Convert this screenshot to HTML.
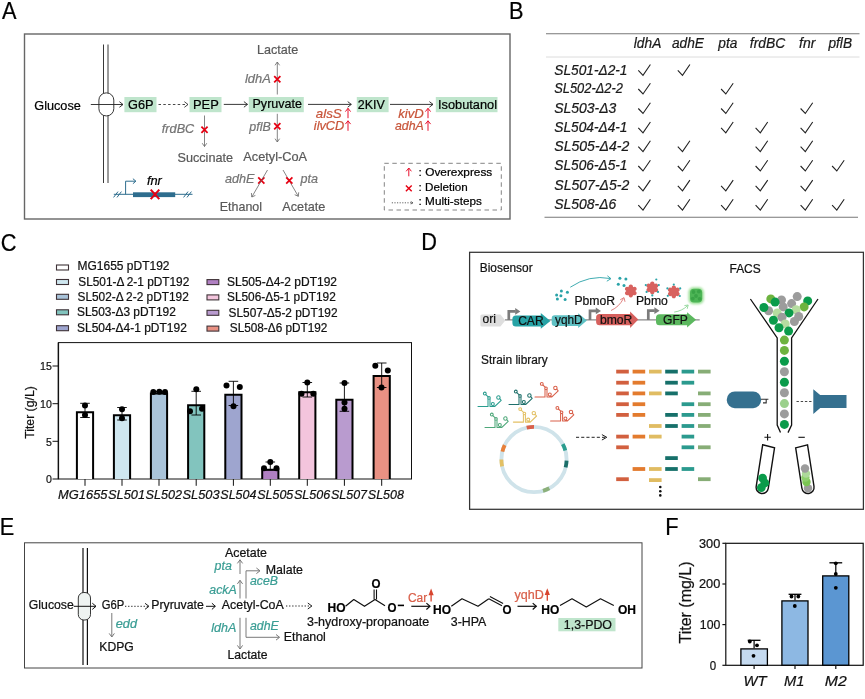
<!DOCTYPE html>
<html><head><meta charset="utf-8"><title>Figure</title>
<style>
html,body{margin:0;padding:0;background:#fff;}
svg{display:block;font-family:"Liberation Sans",sans-serif;filter:blur(0.35px);}
</style></head><body>
<svg width="865" height="699" viewBox="0 0 865 699">
<rect width="865" height="699" fill="#fff"/>
<!-- Panel A -->
<text x="1.9" y="18.8" font-size="23.8" textLength="14.5" lengthAdjust="spacingAndGlyphs" stroke="#000" stroke-width="0.22">A</text>
<rect x="24.5" y="34.0" width="485.5" height="185.0" fill="none" stroke="#666" stroke-width="1.4" rx="0" />
<line x1="103.5" y1="44.5" x2="103.5" y2="183.0" stroke="#222" stroke-width="0.9" />
<line x1="108.0" y1="44.5" x2="108.0" y2="183.0" stroke="#222" stroke-width="0.9" />
<rect x="98.9" y="92.9" width="14.9" height="23.0" fill="#fff" stroke="#222" stroke-width="0.9" rx="7.2" />
<text x="34.3" y="109.5" font-size="13.2" textLength="46.5" lengthAdjust="spacingAndGlyphs" stroke="#000" stroke-width="0.22">Glucose</text>
<line x1="90.8" y1="104.5" x2="123.0" y2="104.5" stroke="#222" stroke-width="0.9" />
<path d="M119.4,107.3 L123.0,104.5 L119.4,101.7" stroke="#222" stroke-width="0.9" fill="none" stroke-linejoin="miter"/>
<rect x="124.4" y="97.0" width="32.1" height="15.2" fill="#bfe5cc" stroke="none" stroke-width="1" rx="0" />
<text x="128.0" y="109.4" font-size="12.9" textLength="25.5" lengthAdjust="spacingAndGlyphs" stroke="#000" stroke-width="0.22">G6P</text>
<line x1="158.5" y1="104.5" x2="188.0" y2="104.5" stroke="#333" stroke-width="0.9" stroke-dasharray="2.5,2.3"/>
<path d="M184.4,107.3 L188.0,104.5 L184.4,101.7" stroke="#333" stroke-width="0.9" fill="none" stroke-linejoin="miter"/>
<rect x="189.5" y="97.0" width="32.0" height="15.2" fill="#bfe5cc" stroke="none" stroke-width="1" rx="0" />
<text x="193.0" y="109.4" font-size="12.9" textLength="25.8" lengthAdjust="spacingAndGlyphs" stroke="#000" stroke-width="0.22">PEP</text>
<line x1="223.8" y1="104.4" x2="247.5" y2="104.4" stroke="#222" stroke-width="0.9" />
<path d="M243.9,107.2 L247.5,104.4 L243.9,101.6" stroke="#222" stroke-width="0.9" fill="none" stroke-linejoin="miter"/>
<rect x="248.8" y="97.0" width="55.0" height="15.2" fill="#bfe5cc" stroke="none" stroke-width="1" rx="0" />
<text x="252.5" y="108.2" font-size="12.9" textLength="49.5" lengthAdjust="spacingAndGlyphs" stroke="#000" stroke-width="0.22">Pyruvate</text>
<line x1="308.0" y1="104.4" x2="351.3" y2="104.4" stroke="#222" stroke-width="0.9" />
<path d="M347.7,107.2 L351.3,104.4 L347.7,101.6" stroke="#222" stroke-width="0.9" fill="none" stroke-linejoin="miter"/>
<rect x="356.8" y="97.0" width="31.8" height="15.2" fill="#bfe5cc" stroke="none" stroke-width="1" rx="0" />
<text x="357.8" y="109.4" font-size="12.9" textLength="27.0" lengthAdjust="spacingAndGlyphs" stroke="#000" stroke-width="0.22">2KIV</text>
<line x1="390.0" y1="104.4" x2="433.0" y2="104.4" stroke="#222" stroke-width="0.9" />
<path d="M429.4,107.2 L433.0,104.4 L429.4,101.6" stroke="#222" stroke-width="0.9" fill="none" stroke-linejoin="miter"/>
<rect x="435.8" y="97.0" width="61.7" height="15.2" fill="#bfe5cc" stroke="none" stroke-width="1" rx="0" />
<text x="438.0" y="109.2" font-size="12.9" textLength="59.0" lengthAdjust="spacingAndGlyphs" stroke="#000" stroke-width="0.22">Isobutanol</text>
<line x1="204.5" y1="115.5" x2="204.5" y2="146.5" stroke="#666" stroke-width="0.8" />
<path d="M202.2,143.2 L204.5,146.5 L206.8,143.2" stroke="#666" stroke-width="0.8" fill="none" stroke-linejoin="miter"/>
<text x="161.8" y="133.3" font-size="12.8" textLength="32.5" lengthAdjust="spacingAndGlyphs" fill="#747474" stroke="#747474" stroke-width="0.22" font-style="italic">frdBC</text>
<path d="M201.4,126.7 L207.6,132.9 M207.6,126.7 L201.4,132.9" stroke="#e60012" stroke-width="1.75" fill="none" />
<text x="177.5" y="161.6" font-size="13.2" textLength="55.5" lengthAdjust="spacingAndGlyphs" fill="#595959" stroke="#595959" stroke-width="0.22">Succinate</text>
<text x="257.0" y="54.0" font-size="13.2" textLength="41.3" lengthAdjust="spacingAndGlyphs" fill="#595959" stroke="#595959" stroke-width="0.22">Lactate</text>
<line x1="277.3" y1="94.5" x2="277.3" y2="62.0" stroke="#666" stroke-width="0.8" />
<path d="M279.6,65.3 L277.3,62.0 L275.0,65.3" stroke="#666" stroke-width="0.8" fill="none" stroke-linejoin="miter"/>
<text x="245.0" y="83.0" font-size="12.8" textLength="25.8" lengthAdjust="spacingAndGlyphs" fill="#747474" stroke="#747474" stroke-width="0.22" font-style="italic">ldhA</text>
<path d="M274.2,76.2 L280.4,82.4 M280.4,76.2 L274.2,82.4" stroke="#e60012" stroke-width="1.75" fill="none" />
<line x1="277.3" y1="113.8" x2="277.3" y2="142.0" stroke="#666" stroke-width="0.8" />
<path d="M275.0,138.7 L277.3,142.0 L279.6,138.7" stroke="#666" stroke-width="0.8" fill="none" stroke-linejoin="miter"/>
<text x="249.3" y="131.3" font-size="12.8" textLength="21.5" lengthAdjust="spacingAndGlyphs" fill="#747474" stroke="#747474" stroke-width="0.22" font-style="italic">pflB</text>
<path d="M274.2,123.2 L280.4,129.4 M280.4,123.2 L274.2,129.4" stroke="#e60012" stroke-width="1.75" fill="none" />
<text x="243.3" y="160.5" font-size="13.2" textLength="63.7" lengthAdjust="spacingAndGlyphs" fill="#595959" stroke="#595959" stroke-width="0.22">Acetyl-CoA</text>
<text x="225.0" y="183.2" font-size="12.8" textLength="29.5" lengthAdjust="spacingAndGlyphs" fill="#747474" stroke="#747474" stroke-width="0.22" font-style="italic">adhE</text>
<path d="M258.2,177.4 L264.4,183.6 M264.4,177.4 L258.2,183.6" stroke="#e60012" stroke-width="1.75" fill="none" />
<line x1="267.5" y1="170.0" x2="251.8" y2="197.0" stroke="#666" stroke-width="0.8" />
<path d="M251.4,193.0 L251.8,197.0 L255.4,195.4" stroke="#666" stroke-width="0.8" fill="none" stroke-linejoin="miter"/>
<line x1="283.0" y1="170.0" x2="298.3" y2="196.3" stroke="#666" stroke-width="0.8" />
<path d="M294.7,194.7 L298.3,196.3 L298.7,192.3" stroke="#666" stroke-width="0.8" fill="none" stroke-linejoin="miter"/>
<path d="M286.2,177.4 L292.4,183.6 M292.4,177.4 L286.2,183.6" stroke="#e60012" stroke-width="1.75" fill="none" />
<text x="300.5" y="183.2" font-size="12.8" textLength="17.5" lengthAdjust="spacingAndGlyphs" fill="#747474" stroke="#747474" stroke-width="0.22" font-style="italic">pta</text>
<text x="219.8" y="210.6" font-size="13.2" textLength="42.2" lengthAdjust="spacingAndGlyphs" fill="#595959" stroke="#595959" stroke-width="0.22">Ethanol</text>
<text x="282.3" y="210.6" font-size="13.2" textLength="43.0" lengthAdjust="spacingAndGlyphs" fill="#595959" stroke="#595959" stroke-width="0.22">Acetate</text>
<text x="315.8" y="118.0" font-size="12.8" textLength="26.0" lengthAdjust="spacingAndGlyphs" fill="#c8553a" stroke="#c8553a" stroke-width="0.22" font-style="italic">alsS</text>
<line x1="348.0" y1="108.3" x2="348.0" y2="118.2" stroke="#e8112d" stroke-width="1.0" />
<path d="M345.4,111.6 L348.0,108.3 L350.6,111.6" stroke="#e8112d" stroke-width="1.0" fill="none" />
<text x="313.8" y="130.0" font-size="12.8" textLength="30.5" lengthAdjust="spacingAndGlyphs" fill="#c8553a" stroke="#c8553a" stroke-width="0.22" font-style="italic">ilvCD</text>
<line x1="348.0" y1="120.8" x2="348.0" y2="130.8" stroke="#e8112d" stroke-width="1.0" />
<path d="M345.4,124.1 L348.0,120.8 L350.6,124.1" stroke="#e8112d" stroke-width="1.0" fill="none" />
<text x="398.3" y="118.0" font-size="12.8" textLength="25.5" lengthAdjust="spacingAndGlyphs" fill="#c8553a" stroke="#c8553a" stroke-width="0.22" font-style="italic">kivD</text>
<line x1="428.0" y1="108.3" x2="428.0" y2="118.2" stroke="#e8112d" stroke-width="1.0" />
<path d="M425.4,111.6 L428.0,108.3 L430.6,111.6" stroke="#e8112d" stroke-width="1.0" fill="none" />
<text x="395.0" y="130.0" font-size="12.8" textLength="28.8" lengthAdjust="spacingAndGlyphs" fill="#c8553a" stroke="#c8553a" stroke-width="0.22" font-style="italic">adhA</text>
<line x1="428.0" y1="120.8" x2="428.0" y2="130.8" stroke="#e8112d" stroke-width="1.0" />
<path d="M425.4,124.1 L428.0,120.8 L430.6,124.1" stroke="#e8112d" stroke-width="1.0" fill="none" />
<rect x="384.3" y="163.3" width="117.0" height="46.7" fill="none" stroke="#777" stroke-width="0.9" rx="0" stroke-dasharray="4.5,3.5"/>
<line x1="408.8" y1="168.0" x2="408.8" y2="176.3" stroke="#e8112d" stroke-width="1.0" />
<path d="M406.2,171.3 L408.8,168.0 L411.4,171.3" stroke="#e8112d" stroke-width="1.0" fill="none" />
<text x="418.6" y="175.5" font-size="11.7" textLength="73.7" lengthAdjust="spacingAndGlyphs" stroke="#000" stroke-width="0.22">: Overexpress</text>
<path d="M405.9,185.4 L411.7,191.2 M411.7,185.4 L405.9,191.2" stroke="#e60012" stroke-width="1.4" fill="none" />
<text x="418.6" y="191.3" font-size="11.7" textLength="49.2" lengthAdjust="spacingAndGlyphs" stroke="#000" stroke-width="0.22">: Deletion</text>
<line x1="391.8" y1="202.8" x2="413.0" y2="202.8" stroke="#555" stroke-width="0.9" stroke-dasharray="1.2,1.4"/>
<path d="M410.8,204.0 L413.0,202.8 L410.8,201.6" stroke="#555" stroke-width="0.9" fill="none" stroke-linejoin="miter"/>
<text x="418.6" y="205.0" font-size="11.7" textLength="63.2" lengthAdjust="spacingAndGlyphs" stroke="#000" stroke-width="0.22">: Multi-steps</text>
<line x1="113.8" y1="194.3" x2="192.5" y2="194.3" stroke="#2e6d8e" stroke-width="1.0" />
<rect x="133.0" y="192.3" width="42.2" height="4.8" fill="#2e6d8e" stroke="none" stroke-width="1" rx="0" />
<path d="M125.6,194.3 L125.6,181.2 L135.6,181.2" stroke="#2e6d8e" stroke-width="1.0" fill="none" />
<path d="M132.9,178.7 L135.9,181.2 L132.9,183.7" stroke="#2e6d8e" stroke-width="1.0" fill="none" />
<line x1="113.6" y1="197.4" x2="118.0" y2="191.6" stroke="#2e6d8e" stroke-width="1.0" />
<line x1="117.0" y1="197.4" x2="121.4" y2="191.6" stroke="#2e6d8e" stroke-width="1.0" />
<line x1="183.6" y1="197.4" x2="188.0" y2="191.6" stroke="#2e6d8e" stroke-width="1.0" />
<line x1="187.0" y1="197.4" x2="191.4" y2="191.6" stroke="#2e6d8e" stroke-width="1.0" />
<text x="146.9" y="185.2" font-size="13.4" textLength="15.0" lengthAdjust="spacingAndGlyphs" stroke="#000" stroke-width="0.22" font-style="italic">fnr</text>
<path d="M150.7,189.6 L159.3,199.2 M159.3,189.6 L150.7,199.2" stroke="#e60012" stroke-width="2.0" fill="none" />
<!-- Panel B -->
<text x="508.9" y="18.8" font-size="23.8" textLength="14.5" lengthAdjust="spacingAndGlyphs" stroke="#000" stroke-width="0.22">B</text>
<line x1="546.0" y1="33.8" x2="859.5" y2="33.8" stroke="#777" stroke-width="1.1" />
<line x1="546.0" y1="57.0" x2="859.5" y2="57.0" stroke="#dcdcdc" stroke-width="1.0" />
<line x1="544.5" y1="217.2" x2="858.0" y2="217.2" stroke="#777" stroke-width="1.1" />
<text x="633.8" y="47.5" font-size="14.2" textLength="27.5" lengthAdjust="spacingAndGlyphs" fill="#1a1a1a" stroke="#1a1a1a" stroke-width="0.22" font-style="italic">ldhA</text>
<text x="672.0" y="47.5" font-size="14.2" textLength="32.0" lengthAdjust="spacingAndGlyphs" fill="#1a1a1a" stroke="#1a1a1a" stroke-width="0.22" font-style="italic">adhE</text>
<text x="718.3" y="47.5" font-size="14.2" textLength="19.0" lengthAdjust="spacingAndGlyphs" fill="#1a1a1a" stroke="#1a1a1a" stroke-width="0.22" font-style="italic">pta</text>
<text x="749.8" y="47.5" font-size="14.2" textLength="35.5" lengthAdjust="spacingAndGlyphs" fill="#1a1a1a" stroke="#1a1a1a" stroke-width="0.22" font-style="italic">frdBC</text>
<text x="799.0" y="47.5" font-size="14.2" textLength="16.3" lengthAdjust="spacingAndGlyphs" fill="#1a1a1a" stroke="#1a1a1a" stroke-width="0.22" font-style="italic">fnr</text>
<text x="828.5" y="47.5" font-size="14.2" textLength="23.5" lengthAdjust="spacingAndGlyphs" fill="#1a1a1a" stroke="#1a1a1a" stroke-width="0.22" font-style="italic">pflB</text>
<text x="554.3" y="74.5" font-size="14.2" textLength="73.2" lengthAdjust="spacingAndGlyphs" fill="#1a1a1a" stroke="#1a1a1a" stroke-width="0.22" font-style="italic">SL501-Δ2-1</text>
<path d="M638.3,70.3 L643.0,75.3 L650.4,64.5" stroke="#222" stroke-width="1.1" fill="none" stroke-linejoin="miter"/>
<path d="M677.8,70.3 L682.5,75.3 L689.9,64.5" stroke="#222" stroke-width="1.1" fill="none" stroke-linejoin="miter"/>
<text x="554.3" y="93.2" font-size="14.2" textLength="68.5" lengthAdjust="spacingAndGlyphs" fill="#1a1a1a" stroke="#1a1a1a" stroke-width="0.22" font-style="italic">SL502-Δ2-2</text>
<path d="M638.3,89.0 L643.0,94.0 L650.4,83.2" stroke="#222" stroke-width="1.1" fill="none" stroke-linejoin="miter"/>
<path d="M721.1,89.0 L725.8,94.0 L733.2,83.2" stroke="#222" stroke-width="1.1" fill="none" stroke-linejoin="miter"/>
<text x="554.3" y="112.7" font-size="14.2" textLength="62.0" lengthAdjust="spacingAndGlyphs" fill="#1a1a1a" stroke="#1a1a1a" stroke-width="0.22" font-style="italic">SL503-Δ3</text>
<path d="M638.3,108.5 L643.0,113.5 L650.4,102.7" stroke="#222" stroke-width="1.1" fill="none" stroke-linejoin="miter"/>
<path d="M721.1,108.5 L725.8,113.5 L733.2,102.7" stroke="#222" stroke-width="1.1" fill="none" stroke-linejoin="miter"/>
<path d="M800.6,108.5 L805.3,113.5 L812.7,102.7" stroke="#222" stroke-width="1.1" fill="none" stroke-linejoin="miter"/>
<text x="554.3" y="132.0" font-size="14.2" textLength="73.2" lengthAdjust="spacingAndGlyphs" fill="#1a1a1a" stroke="#1a1a1a" stroke-width="0.22" font-style="italic">SL504-Δ4-1</text>
<path d="M638.3,127.8 L643.0,132.8 L650.4,122.0" stroke="#222" stroke-width="1.1" fill="none" stroke-linejoin="miter"/>
<path d="M721.1,127.8 L725.8,132.8 L733.2,122.0" stroke="#222" stroke-width="1.1" fill="none" stroke-linejoin="miter"/>
<path d="M755.6,127.8 L760.3,132.8 L767.7,122.0" stroke="#222" stroke-width="1.1" fill="none" stroke-linejoin="miter"/>
<path d="M800.6,127.8 L805.3,132.8 L812.7,122.0" stroke="#222" stroke-width="1.1" fill="none" stroke-linejoin="miter"/>
<text x="554.3" y="150.8" font-size="14.2" textLength="75.0" lengthAdjust="spacingAndGlyphs" fill="#1a1a1a" stroke="#1a1a1a" stroke-width="0.22" font-style="italic">SL505-Δ4-2</text>
<path d="M638.3,146.6 L643.0,151.6 L650.4,140.8" stroke="#222" stroke-width="1.1" fill="none" stroke-linejoin="miter"/>
<path d="M677.8,146.6 L682.5,151.6 L689.9,140.8" stroke="#222" stroke-width="1.1" fill="none" stroke-linejoin="miter"/>
<path d="M755.6,146.6 L760.3,151.6 L767.7,140.8" stroke="#222" stroke-width="1.1" fill="none" stroke-linejoin="miter"/>
<path d="M800.6,146.6 L805.3,151.6 L812.7,140.8" stroke="#222" stroke-width="1.1" fill="none" stroke-linejoin="miter"/>
<text x="554.3" y="170.2" font-size="14.2" textLength="73.2" lengthAdjust="spacingAndGlyphs" fill="#1a1a1a" stroke="#1a1a1a" stroke-width="0.22" font-style="italic">SL506-Δ5-1</text>
<path d="M638.3,166.0 L643.0,171.0 L650.4,160.2" stroke="#222" stroke-width="1.1" fill="none" stroke-linejoin="miter"/>
<path d="M677.8,166.0 L682.5,171.0 L689.9,160.2" stroke="#222" stroke-width="1.1" fill="none" stroke-linejoin="miter"/>
<path d="M755.6,166.0 L760.3,171.0 L767.7,160.2" stroke="#222" stroke-width="1.1" fill="none" stroke-linejoin="miter"/>
<path d="M800.6,166.0 L805.3,171.0 L812.7,160.2" stroke="#222" stroke-width="1.1" fill="none" stroke-linejoin="miter"/>
<path d="M832.1,166.0 L836.8,171.0 L844.2,160.2" stroke="#222" stroke-width="1.1" fill="none" stroke-linejoin="miter"/>
<text x="554.3" y="190.1" font-size="14.2" textLength="75.0" lengthAdjust="spacingAndGlyphs" fill="#1a1a1a" stroke="#1a1a1a" stroke-width="0.22" font-style="italic">SL507-Δ5-2</text>
<path d="M638.3,185.9 L643.0,190.9 L650.4,180.1" stroke="#222" stroke-width="1.1" fill="none" stroke-linejoin="miter"/>
<path d="M677.8,185.9 L682.5,190.9 L689.9,180.1" stroke="#222" stroke-width="1.1" fill="none" stroke-linejoin="miter"/>
<path d="M721.1,185.9 L725.8,190.9 L733.2,180.1" stroke="#222" stroke-width="1.1" fill="none" stroke-linejoin="miter"/>
<path d="M755.6,185.9 L760.3,190.9 L767.7,180.1" stroke="#222" stroke-width="1.1" fill="none" stroke-linejoin="miter"/>
<path d="M800.6,185.9 L805.3,190.9 L812.7,180.1" stroke="#222" stroke-width="1.1" fill="none" stroke-linejoin="miter"/>
<text x="554.3" y="209.3" font-size="14.2" textLength="62.0" lengthAdjust="spacingAndGlyphs" fill="#1a1a1a" stroke="#1a1a1a" stroke-width="0.22" font-style="italic">SL508-Δ6</text>
<path d="M638.3,205.1 L643.0,210.1 L650.4,199.3" stroke="#222" stroke-width="1.1" fill="none" stroke-linejoin="miter"/>
<path d="M677.8,205.1 L682.5,210.1 L689.9,199.3" stroke="#222" stroke-width="1.1" fill="none" stroke-linejoin="miter"/>
<path d="M721.1,205.1 L725.8,210.1 L733.2,199.3" stroke="#222" stroke-width="1.1" fill="none" stroke-linejoin="miter"/>
<path d="M755.6,205.1 L760.3,210.1 L767.7,199.3" stroke="#222" stroke-width="1.1" fill="none" stroke-linejoin="miter"/>
<path d="M800.6,205.1 L805.3,210.1 L812.7,199.3" stroke="#222" stroke-width="1.1" fill="none" stroke-linejoin="miter"/>
<path d="M832.1,205.1 L836.8,210.1 L844.2,199.3" stroke="#222" stroke-width="1.1" fill="none" stroke-linejoin="miter"/>
<!-- Panel C -->
<text x="0.7" y="250.5" font-size="23.8" textLength="15.7" lengthAdjust="spacingAndGlyphs" stroke="#000" stroke-width="0.22">C</text>
<rect x="56.5" y="265.0" width="12.0" height="5.0" fill="#ffffff" stroke="#3f3338" stroke-width="1.1" rx="0" />
<text x="77.5" y="269.8" font-size="12.1" textLength="92.0" lengthAdjust="spacingAndGlyphs" fill="#111" stroke="#111" stroke-width="0.22">MG1655 pDT192</text>
<rect x="56.5" y="279.5" width="12.0" height="5.0" fill="#cfe7f0" stroke="#3f3338" stroke-width="1.1" rx="0" />
<text x="78.3" y="285.5" font-size="12.1" textLength="111.0" lengthAdjust="spacingAndGlyphs" fill="#111" stroke="#111" stroke-width="0.22">SL501-Δ 2-1 pDT192</text>
<rect x="56.5" y="294.3" width="12.0" height="5.0" fill="#a9c3d9" stroke="#3f3338" stroke-width="1.1" rx="0" />
<text x="77.5" y="300.7" font-size="12.1" textLength="111.3" lengthAdjust="spacingAndGlyphs" fill="#111" stroke="#111" stroke-width="0.22">SL502-Δ 2-2 pDT192</text>
<rect x="56.5" y="309.8" width="12.0" height="5.0" fill="#82c4be" stroke="#3f3338" stroke-width="1.1" rx="0" />
<text x="77.0" y="315.8" font-size="12.1" textLength="98.8" lengthAdjust="spacingAndGlyphs" fill="#111" stroke="#111" stroke-width="0.22">SL503-Δ3 pDT192</text>
<rect x="56.5" y="325.7" width="12.0" height="5.0" fill="#9ea5cf" stroke="#3f3338" stroke-width="1.1" rx="0" />
<text x="77.0" y="331.6" font-size="12.1" textLength="109.8" lengthAdjust="spacingAndGlyphs" fill="#111" stroke="#111" stroke-width="0.22">SL504-Δ4-1 pDT192</text>
<rect x="207.0" y="279.6" width="11.8" height="5.0" fill="#b080c2" stroke="#3f3338" stroke-width="1.1" rx="0" />
<text x="227.0" y="285.6" font-size="12.1" textLength="110.0" lengthAdjust="spacingAndGlyphs" fill="#111" stroke="#111" stroke-width="0.22">SL505-Δ4-2 pDT192</text>
<rect x="207.0" y="294.9" width="11.8" height="5.0" fill="#f3c5dd" stroke="#3f3338" stroke-width="1.1" rx="0" />
<text x="227.0" y="300.9" font-size="12.1" textLength="108.8" lengthAdjust="spacingAndGlyphs" fill="#111" stroke="#111" stroke-width="0.22">SL506-Δ5-1 pDT192</text>
<rect x="207.0" y="310.3" width="11.8" height="5.0" fill="#b99bcf" stroke="#3f3338" stroke-width="1.1" rx="0" />
<text x="228.6" y="316.5" font-size="12.1" textLength="108.9" lengthAdjust="spacingAndGlyphs" fill="#111" stroke="#111" stroke-width="0.22">SL507-Δ5-2 pDT192</text>
<rect x="207.0" y="326.1" width="11.8" height="5.0" fill="#e99183" stroke="#3f3338" stroke-width="1.1" rx="0" />
<text x="229.8" y="331.9" font-size="12.1" textLength="97.6" lengthAdjust="spacingAndGlyphs" fill="#111" stroke="#111" stroke-width="0.22">SL508-Δ6 pDT192</text>
<rect x="58.4" y="342.6" width="353.1" height="136.4" fill="none" stroke="#111" stroke-width="1.0" rx="0" />
<line x1="58.4" y1="342.6" x2="58.4" y2="479.0" stroke="#111" stroke-width="1.4" />
<line x1="52.5" y1="366.0" x2="58.4" y2="366.0" stroke="#111" stroke-width="1.0" />
<text x="40.0" y="370.3" font-size="11.8" textLength="11.8" lengthAdjust="spacingAndGlyphs" fill="#111" stroke="#111" stroke-width="0.22">15</text>
<line x1="52.5" y1="403.7" x2="58.4" y2="403.7" stroke="#111" stroke-width="1.0" />
<text x="40.0" y="408.0" font-size="11.8" textLength="11.8" lengthAdjust="spacingAndGlyphs" fill="#111" stroke="#111" stroke-width="0.22">10</text>
<line x1="52.5" y1="441.3" x2="58.4" y2="441.3" stroke="#111" stroke-width="1.0" />
<text x="46.0" y="445.6" font-size="11.8" textLength="5.9" lengthAdjust="spacingAndGlyphs" fill="#111" stroke="#111" stroke-width="0.22">5</text>
<line x1="52.5" y1="479.0" x2="58.4" y2="479.0" stroke="#111" stroke-width="1.0" />
<text x="46.0" y="483.3" font-size="11.8" textLength="5.9" lengthAdjust="spacingAndGlyphs" fill="#111" stroke="#111" stroke-width="0.22">0</text>
<text transform="translate(33.8,412.5) rotate(-90)" text-anchor="middle" font-size="12.2" textLength="52.5" lengthAdjust="spacingAndGlyphs" fill="#111" stroke="#111" stroke-width="0.22">Titer (g/L)</text>
<rect x="76.9" y="412.3" width="16.2" height="66.7" fill="#ffffff" stroke="none" stroke-width="1" rx="0" />
<path d="M76.9,479.0 L76.9,412.3 L93.1,412.3 L93.1,479.0" stroke="#000" stroke-width="2.0" fill="none" stroke-linejoin="miter"/>
<line x1="85.0" y1="403.3" x2="85.0" y2="417.5" stroke="#000" stroke-width="0.9" />
<line x1="80.2" y1="403.3" x2="89.8" y2="403.3" stroke="#000" stroke-width="0.9" />
<line x1="80.2" y1="417.5" x2="89.8" y2="417.5" stroke="#000" stroke-width="0.9" />
<circle cx="85.0" cy="405.5" r="3.0" fill="#000" stroke="none" stroke-width="1"/>
<circle cx="85.0" cy="415.0" r="3.0" fill="#000" stroke="none" stroke-width="1"/>
<line x1="85.0" y1="479.0" x2="85.0" y2="485.8" stroke="#111" stroke-width="1.0" />
<rect x="113.9" y="415.3" width="16.2" height="63.7" fill="#cfe7f0" stroke="none" stroke-width="1" rx="0" />
<path d="M113.9,479.0 L113.9,415.3 L130.1,415.3 L130.1,479.0" stroke="#000" stroke-width="2.0" fill="none" stroke-linejoin="miter"/>
<line x1="122.0" y1="407.5" x2="122.0" y2="420.0" stroke="#000" stroke-width="0.9" />
<line x1="117.2" y1="407.5" x2="126.8" y2="407.5" stroke="#000" stroke-width="0.9" />
<line x1="117.2" y1="420.0" x2="126.8" y2="420.0" stroke="#000" stroke-width="0.9" />
<circle cx="122.0" cy="409.3" r="3.0" fill="#000" stroke="none" stroke-width="1"/>
<circle cx="122.0" cy="418.3" r="3.0" fill="#000" stroke="none" stroke-width="1"/>
<line x1="122.0" y1="479.0" x2="122.0" y2="485.8" stroke="#111" stroke-width="1.0" />
<rect x="150.9" y="393.5" width="16.2" height="85.5" fill="#a9c3d9" stroke="none" stroke-width="1" rx="0" />
<path d="M150.9,479.0 L150.9,393.5 L167.1,393.5 L167.1,479.0" stroke="#000" stroke-width="2.0" fill="none" stroke-linejoin="miter"/>
<line x1="159.0" y1="391.5" x2="159.0" y2="393.5" stroke="#000" stroke-width="0.9" />
<line x1="154.2" y1="391.5" x2="163.8" y2="391.5" stroke="#000" stroke-width="0.9" />
<line x1="154.2" y1="393.5" x2="163.8" y2="393.5" stroke="#000" stroke-width="0.9" />
<circle cx="153.3" cy="392.0" r="3.0" fill="#000" stroke="none" stroke-width="1"/>
<circle cx="159.3" cy="391.7" r="3.0" fill="#000" stroke="none" stroke-width="1"/>
<circle cx="165.0" cy="392.0" r="3.0" fill="#000" stroke="none" stroke-width="1"/>
<line x1="159.0" y1="479.0" x2="159.0" y2="485.8" stroke="#111" stroke-width="1.0" />
<rect x="188.1" y="405.3" width="16.2" height="73.7" fill="#82c4be" stroke="none" stroke-width="1" rx="0" />
<path d="M188.1,479.0 L188.1,405.3 L204.3,405.3 L204.3,479.0" stroke="#000" stroke-width="2.0" fill="none" stroke-linejoin="miter"/>
<line x1="196.2" y1="391.3" x2="196.2" y2="415.0" stroke="#000" stroke-width="0.9" />
<line x1="191.4" y1="391.3" x2="201.0" y2="391.3" stroke="#000" stroke-width="0.9" />
<line x1="191.4" y1="415.0" x2="201.0" y2="415.0" stroke="#000" stroke-width="0.9" />
<circle cx="196.3" cy="389.3" r="3.0" fill="#000" stroke="none" stroke-width="1"/>
<circle cx="190.0" cy="411.3" r="3.0" fill="#000" stroke="none" stroke-width="1"/>
<circle cx="202.0" cy="408.8" r="3.0" fill="#000" stroke="none" stroke-width="1"/>
<line x1="196.2" y1="479.0" x2="196.2" y2="485.8" stroke="#111" stroke-width="1.0" />
<rect x="225.3" y="394.8" width="16.2" height="84.2" fill="#9ea5cf" stroke="none" stroke-width="1" rx="0" />
<path d="M225.3,479.0 L225.3,394.8 L241.5,394.8 L241.5,479.0" stroke="#000" stroke-width="2.0" fill="none" stroke-linejoin="miter"/>
<line x1="233.4" y1="381.3" x2="233.4" y2="405.5" stroke="#000" stroke-width="0.9" />
<line x1="228.6" y1="381.3" x2="238.2" y2="381.3" stroke="#000" stroke-width="0.9" />
<line x1="228.6" y1="405.5" x2="238.2" y2="405.5" stroke="#000" stroke-width="0.9" />
<circle cx="226.5" cy="385.5" r="3.0" fill="#000" stroke="none" stroke-width="1"/>
<circle cx="239.8" cy="387.0" r="3.0" fill="#000" stroke="none" stroke-width="1"/>
<circle cx="233.5" cy="406.3" r="3.0" fill="#000" stroke="none" stroke-width="1"/>
<line x1="233.4" y1="479.0" x2="233.4" y2="485.8" stroke="#111" stroke-width="1.0" />
<rect x="262.2" y="469.8" width="16.2" height="9.2" fill="#b080c2" stroke="none" stroke-width="1" rx="0" />
<path d="M262.2,479.0 L262.2,469.8 L278.4,469.8 L278.4,479.0" stroke="#000" stroke-width="2.0" fill="none" stroke-linejoin="miter"/>
<line x1="270.3" y1="462.0" x2="270.3" y2="470.0" stroke="#000" stroke-width="0.9" />
<line x1="265.5" y1="462.0" x2="275.1" y2="462.0" stroke="#000" stroke-width="0.9" />
<line x1="265.5" y1="470.0" x2="275.1" y2="470.0" stroke="#000" stroke-width="0.9" />
<circle cx="270.3" cy="462.0" r="3.0" fill="#000" stroke="none" stroke-width="1"/>
<circle cx="264.0" cy="468.3" r="3.0" fill="#000" stroke="none" stroke-width="1"/>
<circle cx="276.5" cy="468.3" r="3.0" fill="#000" stroke="none" stroke-width="1"/>
<line x1="270.3" y1="479.0" x2="270.3" y2="485.8" stroke="#111" stroke-width="1.0" />
<rect x="299.2" y="392.3" width="16.2" height="86.7" fill="#f3c5dd" stroke="none" stroke-width="1" rx="0" />
<path d="M299.2,479.0 L299.2,392.3 L315.4,392.3 L315.4,479.0" stroke="#000" stroke-width="2.0" fill="none" stroke-linejoin="miter"/>
<line x1="307.3" y1="382.5" x2="307.3" y2="397.0" stroke="#000" stroke-width="0.9" />
<line x1="302.5" y1="382.5" x2="312.1" y2="382.5" stroke="#000" stroke-width="0.9" />
<line x1="302.5" y1="397.0" x2="312.1" y2="397.0" stroke="#000" stroke-width="0.9" />
<circle cx="307.3" cy="382.5" r="3.0" fill="#000" stroke="none" stroke-width="1"/>
<circle cx="301.5" cy="393.8" r="3.0" fill="#000" stroke="none" stroke-width="1"/>
<circle cx="313.3" cy="393.8" r="3.0" fill="#000" stroke="none" stroke-width="1"/>
<line x1="307.3" y1="479.0" x2="307.3" y2="485.8" stroke="#111" stroke-width="1.0" />
<rect x="336.3" y="399.8" width="16.2" height="79.2" fill="#b99bcf" stroke="none" stroke-width="1" rx="0" />
<path d="M336.3,479.0 L336.3,399.8 L352.5,399.8 L352.5,479.0" stroke="#000" stroke-width="2.0" fill="none" stroke-linejoin="miter"/>
<line x1="344.4" y1="383.0" x2="344.4" y2="411.3" stroke="#000" stroke-width="0.9" />
<line x1="339.6" y1="383.0" x2="349.2" y2="383.0" stroke="#000" stroke-width="0.9" />
<line x1="339.6" y1="411.3" x2="349.2" y2="411.3" stroke="#000" stroke-width="0.9" />
<circle cx="344.5" cy="383.0" r="3.0" fill="#000" stroke="none" stroke-width="1"/>
<circle cx="344.5" cy="402.5" r="3.0" fill="#000" stroke="none" stroke-width="1"/>
<circle cx="344.5" cy="408.8" r="3.0" fill="#000" stroke="none" stroke-width="1"/>
<line x1="344.4" y1="479.0" x2="344.4" y2="485.8" stroke="#111" stroke-width="1.0" />
<rect x="373.6" y="376.0" width="16.2" height="103.0" fill="#e99183" stroke="none" stroke-width="1" rx="0" />
<path d="M373.6,479.0 L373.6,376.0 L389.8,376.0 L389.8,479.0" stroke="#000" stroke-width="2.0" fill="none" stroke-linejoin="miter"/>
<line x1="381.7" y1="363.0" x2="381.7" y2="387.5" stroke="#000" stroke-width="0.9" />
<line x1="376.9" y1="363.0" x2="386.5" y2="363.0" stroke="#000" stroke-width="0.9" />
<line x1="376.9" y1="387.5" x2="386.5" y2="387.5" stroke="#000" stroke-width="0.9" />
<circle cx="375.3" cy="365.8" r="3.0" fill="#000" stroke="none" stroke-width="1"/>
<circle cx="387.8" cy="370.5" r="3.0" fill="#000" stroke="none" stroke-width="1"/>
<circle cx="381.5" cy="387.5" r="3.0" fill="#000" stroke="none" stroke-width="1"/>
<line x1="381.7" y1="479.0" x2="381.7" y2="485.8" stroke="#111" stroke-width="1.0" />
<text x="58.0" y="498.9" font-size="13.0" textLength="49.5" lengthAdjust="spacingAndGlyphs" fill="#111" stroke="#111" stroke-width="0.22" font-style="italic">MG1655</text>
<text x="108.0" y="498.9" font-size="13.0" textLength="37.0" lengthAdjust="spacingAndGlyphs" fill="#111" stroke="#111" stroke-width="0.22" font-style="italic">SL501</text>
<text x="145.5" y="498.9" font-size="13.0" textLength="36.5" lengthAdjust="spacingAndGlyphs" fill="#111" stroke="#111" stroke-width="0.22" font-style="italic">SL502</text>
<text x="182.5" y="498.9" font-size="13.0" textLength="37.0" lengthAdjust="spacingAndGlyphs" fill="#111" stroke="#111" stroke-width="0.22" font-style="italic">SL503</text>
<text x="220.3" y="498.9" font-size="13.0" textLength="36.2" lengthAdjust="spacingAndGlyphs" fill="#111" stroke="#111" stroke-width="0.22" font-style="italic">SL504</text>
<text x="257.3" y="498.9" font-size="13.0" textLength="36.0" lengthAdjust="spacingAndGlyphs" fill="#111" stroke="#111" stroke-width="0.22" font-style="italic">SL505</text>
<text x="294.0" y="498.9" font-size="13.0" textLength="36.3" lengthAdjust="spacingAndGlyphs" fill="#111" stroke="#111" stroke-width="0.22" font-style="italic">SL506</text>
<text x="331.0" y="498.9" font-size="13.0" textLength="36.0" lengthAdjust="spacingAndGlyphs" fill="#111" stroke="#111" stroke-width="0.22" font-style="italic">SL507</text>
<text x="367.8" y="498.9" font-size="13.0" textLength="36.2" lengthAdjust="spacingAndGlyphs" fill="#111" stroke="#111" stroke-width="0.22" font-style="italic">SL508</text>
<!-- Panel D -->
<text x="421.3" y="250.3" font-size="23.8" textLength="15.7" lengthAdjust="spacingAndGlyphs" stroke="#000" stroke-width="0.22">D</text>
<rect x="469.6" y="252.3" width="393.8" height="257.0" fill="none" stroke="#333" stroke-width="1.25" rx="0" />
<text x="479.8" y="271.7" font-size="12.3" textLength="52.8" lengthAdjust="spacingAndGlyphs" fill="#111" stroke="#111" stroke-width="0.22">Biosensor</text>
<text x="481.1" y="364.1" font-size="12.3" textLength="66.6" lengthAdjust="spacingAndGlyphs" fill="#111" stroke="#111" stroke-width="0.22">Strain library</text>
<text x="729.5" y="272.8" font-size="12.3" textLength="31.2" lengthAdjust="spacingAndGlyphs" fill="#111" stroke="#111" stroke-width="0.22">FACS</text>
<line x1="505.0" y1="319.8" x2="699.7" y2="319.8" stroke="#888" stroke-width="1.2" />
<path d="M481.9,314.6 L500.4,314.6 L500.4,314.6 L505.3,320.5 L500.4,326.4 L500.4,326.4 L481.9,326.4 Q480.4,326.4 480.4,324.9 L480.4,316.1 Q480.4,314.6 481.9,314.6 Z" stroke="none" stroke-width="0" fill="#dedede" />
<text x="482.6" y="323.2" font-size="13.0" textLength="13.4" lengthAdjust="spacingAndGlyphs" fill="#111" stroke="#111" stroke-width="0.22">ori</text>
<path d="M508.8,320.0 L508.8,311.4 L515.6,311.4" stroke="#7c7c7c" stroke-width="2.7" fill="none" stroke-linejoin="miter"/>
<path d="M515.2,308.0 L520.4,311.4 L515.2,314.8 Z" stroke="none" stroke-width="0" fill="#7c7c7c" />
<path d="M515.9,315.5 L540.8,315.5 L540.8,312.9 L550.4,320.9 L540.8,328.8 L540.8,326.4 L515.9,326.4 Q512.4,326.4 512.4,322.9 L512.4,319.0 Q512.4,315.5 515.9,315.5 Z" stroke="none" stroke-width="0" fill="#27a3a6" />
<text x="518.2" y="324.9" font-size="12.8" textLength="25.4" lengthAdjust="spacingAndGlyphs" fill="#111" stroke="#111" stroke-width="0.22">CAR</text>
<path d="M554.7,315.3 L578.2,315.3 L578.2,313.3 L586.9,320.6 L578.2,327.9 L578.2,325.9 L554.7,325.9 Q551.7,325.9 551.7,322.9 L551.7,318.3 Q551.7,315.3 554.7,315.3 Z" stroke="none" stroke-width="0" fill="#5fc1c4" />
<text x="555.0" y="324.3" font-size="12.8" textLength="27.6" lengthAdjust="spacingAndGlyphs" fill="#111" stroke="#111" stroke-width="0.22">yqhD</text>
<path d="M590.0,320.0 L590.0,310.9 L596.2,310.9" stroke="#7c7c7c" stroke-width="2.7" fill="none" stroke-linejoin="miter"/>
<path d="M595.8,307.5 L601.0,310.9 L595.8,314.3 Z" stroke="none" stroke-width="0" fill="#7c7c7c" />
<path d="M599.6,314.0 L630.1,314.0 L630.1,311.4 L638.3,319.6 L630.1,328.0 L630.1,325.2 L599.6,325.2 Q596.1,325.2 596.1,321.7 L596.1,317.5 Q596.1,314.0 599.6,314.0 Z" stroke="none" stroke-width="0" fill="#d6605d" />
<text x="600.0" y="323.7" font-size="13.1" textLength="32.4" lengthAdjust="spacingAndGlyphs" fill="#111" stroke="#111" stroke-width="0.22">bmoR</text>
<path d="M648.3,320.0 L648.3,310.7 L654.8,310.7" stroke="#7c7c7c" stroke-width="2.7" fill="none" stroke-linejoin="miter"/>
<path d="M654.4,307.3 L659.6,310.7 L654.4,314.1 Z" stroke="none" stroke-width="0" fill="#7c7c7c" />
<path d="M659.5,314.2 L687.1,314.2 L687.1,312.2 L696.1,319.7 L687.1,327.6 L687.1,325.2 L659.5,325.2 Q656.0,325.2 656.0,321.7 L656.0,317.7 Q656.0,314.2 659.5,314.2 Z" stroke="none" stroke-width="0" fill="#5cb85f" />
<text x="663.1" y="323.9" font-size="13.1" textLength="24.8" lengthAdjust="spacingAndGlyphs" fill="#111" stroke="#111" stroke-width="0.22">GFP</text>
<text x="574.4" y="304.5" font-size="13.4" textLength="40.7" lengthAdjust="spacingAndGlyphs" fill="#111" stroke="#111" stroke-width="0.22">PbmoR</text>
<text x="636.0" y="304.6" font-size="13.4" textLength="31.8" lengthAdjust="spacingAndGlyphs" fill="#111" stroke="#111" stroke-width="0.22">Pbmo</text>
<circle cx="561.4" cy="290.9" r="1.5" fill="#2aa3a8" stroke="none" stroke-width="1"/>
<circle cx="567.4" cy="292.2" r="1.5" fill="#2aa3a8" stroke="none" stroke-width="1"/>
<circle cx="556.6" cy="295.1" r="1.5" fill="#2aa3a8" stroke="none" stroke-width="1"/>
<circle cx="560.9" cy="295.8" r="1.5" fill="#2aa3a8" stroke="none" stroke-width="1"/>
<circle cx="565.1" cy="299.5" r="1.5" fill="#2aa3a8" stroke="none" stroke-width="1"/>
<circle cx="557.4" cy="299.0" r="1.5" fill="#2aa3a8" stroke="none" stroke-width="1"/>
<path d="M570.3,287.2 Q589,274.5 610.4,278.5" stroke="#2aa3a8" stroke-width="0.9" fill="none" />
<path d="M607.4,275.8 L611.0,278.7 L606.8,281.2" stroke="#2aa3a8" stroke-width="0.9" fill="none" />
<circle cx="619.9" cy="278.2" r="1.5" fill="#2aa3a8" stroke="none" stroke-width="1"/>
<circle cx="625.9" cy="279.0" r="1.5" fill="#2aa3a8" stroke="none" stroke-width="1"/>
<circle cx="618.3" cy="284.3" r="1.5" fill="#2aa3a8" stroke="none" stroke-width="1"/>
<circle cx="624.0" cy="285.5" r="1.5" fill="#2aa3a8" stroke="none" stroke-width="1"/>
<ellipse cx="630.8" cy="287.7" rx="2.3" ry="3.1" fill="#d8625f" transform="rotate(0 630.8 291.0)"/>
<ellipse cx="630.8" cy="287.7" rx="2.3" ry="3.1" fill="#d8625f" transform="rotate(60 630.8 291.0)"/>
<ellipse cx="630.8" cy="287.7" rx="2.3" ry="3.1" fill="#d8625f" transform="rotate(120 630.8 291.0)"/>
<ellipse cx="630.8" cy="287.7" rx="2.3" ry="3.1" fill="#d8625f" transform="rotate(180 630.8 291.0)"/>
<ellipse cx="630.8" cy="287.7" rx="2.3" ry="3.1" fill="#d8625f" transform="rotate(240 630.8 291.0)"/>
<ellipse cx="630.8" cy="287.7" rx="2.3" ry="3.1" fill="#d8625f" transform="rotate(300 630.8 291.0)"/>
<circle cx="630.8" cy="291.0" r="3.6" fill="#d8625f" stroke="none" stroke-width="1"/>
<ellipse cx="652.3" cy="284.6" rx="2.3" ry="3.1" fill="#d8625f" transform="rotate(0 652.3 287.9)"/>
<ellipse cx="652.3" cy="284.6" rx="2.3" ry="3.1" fill="#d8625f" transform="rotate(60 652.3 287.9)"/>
<ellipse cx="652.3" cy="284.6" rx="2.3" ry="3.1" fill="#d8625f" transform="rotate(120 652.3 287.9)"/>
<ellipse cx="652.3" cy="284.6" rx="2.3" ry="3.1" fill="#d8625f" transform="rotate(180 652.3 287.9)"/>
<ellipse cx="652.3" cy="284.6" rx="2.3" ry="3.1" fill="#d8625f" transform="rotate(240 652.3 287.9)"/>
<ellipse cx="652.3" cy="284.6" rx="2.3" ry="3.1" fill="#d8625f" transform="rotate(300 652.3 287.9)"/>
<circle cx="652.3" cy="287.9" r="3.6" fill="#d8625f" stroke="none" stroke-width="1"/>
<circle cx="656.3" cy="279.5" r="1.1" fill="#2aa3a8" stroke="none" stroke-width="1"/>
<circle cx="645.8" cy="285.1" r="1.1" fill="#2aa3a8" stroke="none" stroke-width="1"/>
<circle cx="658.8" cy="285.1" r="1.1" fill="#2aa3a8" stroke="none" stroke-width="1"/>
<circle cx="646.6" cy="291.9" r="1.1" fill="#2aa3a8" stroke="none" stroke-width="1"/>
<circle cx="658.0" cy="291.9" r="1.1" fill="#2aa3a8" stroke="none" stroke-width="1"/>
<circle cx="652.3" cy="295.4" r="1.1" fill="#2aa3a8" stroke="none" stroke-width="1"/>
<ellipse cx="673.8" cy="288.6" rx="2.3" ry="3.1" fill="#d8625f" transform="rotate(0 673.8 291.9)"/>
<ellipse cx="673.8" cy="288.6" rx="2.3" ry="3.1" fill="#d8625f" transform="rotate(60 673.8 291.9)"/>
<ellipse cx="673.8" cy="288.6" rx="2.3" ry="3.1" fill="#d8625f" transform="rotate(120 673.8 291.9)"/>
<ellipse cx="673.8" cy="288.6" rx="2.3" ry="3.1" fill="#d8625f" transform="rotate(180 673.8 291.9)"/>
<ellipse cx="673.8" cy="288.6" rx="2.3" ry="3.1" fill="#d8625f" transform="rotate(240 673.8 291.9)"/>
<ellipse cx="673.8" cy="288.6" rx="2.3" ry="3.1" fill="#d8625f" transform="rotate(300 673.8 291.9)"/>
<circle cx="673.8" cy="291.9" r="3.6" fill="#d8625f" stroke="none" stroke-width="1"/>
<circle cx="673.8" cy="284.6" r="1.1" fill="#2aa3a8" stroke="none" stroke-width="1"/>
<circle cx="667.4" cy="288.4" r="1.1" fill="#2aa3a8" stroke="none" stroke-width="1"/>
<circle cx="680.2" cy="288.4" r="1.1" fill="#2aa3a8" stroke="none" stroke-width="1"/>
<circle cx="667.8" cy="295.8" r="1.1" fill="#2aa3a8" stroke="none" stroke-width="1"/>
<circle cx="679.8" cy="296.0" r="1.1" fill="#2aa3a8" stroke="none" stroke-width="1"/>
<path d="M611.0,310.5 Q619,307 623.4,298.6" stroke="#d8625f" stroke-width="0.8" fill="none" />
<path d="M620.2,299.8 L624.0,297.6 L625.0,301.8" stroke="#d8625f" stroke-width="0.8" fill="none" />
<path d="M674.2,312.1 Q682,311 687.4,305.8" stroke="#7ccf86" stroke-width="0.8" fill="none" />
<path d="M684.4,305.6 L688.2,305.0 L687.2,308.8" stroke="#7ccf86" stroke-width="0.8" fill="none" />
<defs><filter id="gb" x="-50%" y="-50%" width="200%" height="200%"><feGaussianBlur stdDeviation="1.3"/></filter><filter id="gb2" x="-50%" y="-50%" width="200%" height="200%"><feGaussianBlur stdDeviation="0.6"/></filter></defs>
<rect x="688.4" y="287.2" width="15.4" height="17.0" fill="#9fe09a" stroke="none" stroke-width="1" rx="5" filter="url(#gb)"/>
<rect x="690.0" y="288.8" width="12.2" height="13.8" fill="#4db556" stroke="none" stroke-width="1" rx="4" filter="url(#gb2)"/>
<circle cx="693.5" cy="292.0" r="1.9" fill="#3aa447" stroke="none" stroke-width="1"/>
<circle cx="698.8" cy="291.6" r="1.9" fill="#3aa447" stroke="none" stroke-width="1"/>
<circle cx="696.0" cy="296.0" r="1.9" fill="#3aa447" stroke="none" stroke-width="1"/>
<circle cx="692.8" cy="298.6" r="1.9" fill="#3aa447" stroke="none" stroke-width="1"/>
<circle cx="699.6" cy="298.8" r="1.9" fill="#3aa447" stroke="none" stroke-width="1"/>
<g transform="translate(478.0,392.0)" stroke="#2a9d8f" stroke-width="1.05" fill="none" stroke-linecap="round"><path d="M0,14.5 L10,14.5 L10,7.2 M12,14.5 L12,7.2 M10.2,4.8 L7.8,2.6 M12,14.5 L16.8,14.5 L23.2,8.4 M14.6,14 L16.4,14 M21.7,6.7 L23.2,8.4"/><circle cx="11" cy="5.9" r="1.3"/><circle cx="6.8" cy="1.5" r="1.4"/><circle cx="14.8" cy="12" r="1.5"/><circle cx="20.4" cy="5.5" r="1.7"/></g>
<g transform="translate(509.0,390.0)" stroke="#1f706b" stroke-width="1.05" fill="none" stroke-linecap="round"><path d="M0,14.5 L10,14.5 L10,7.2 M12,14.5 L12,7.2 M10.2,4.8 L7.8,2.6 M12,14.5 L16.8,14.5 L23.2,8.4 M14.6,14 L16.4,14 M21.7,6.7 L23.2,8.4"/><circle cx="11" cy="5.9" r="1.3"/><circle cx="6.8" cy="1.5" r="1.4"/><circle cx="14.8" cy="12" r="1.5"/><circle cx="20.4" cy="5.5" r="1.7"/></g>
<g transform="translate(535.0,382.4)" stroke="#d9604a" stroke-width="1.05" fill="none" stroke-linecap="round"><path d="M0,14.5 L10,14.5 L10,7.2 M12,14.5 L12,7.2 M10.2,4.8 L7.8,2.6 M12,14.5 L16.8,14.5 L23.2,8.4 M14.6,14 L16.4,14 M21.7,6.7 L23.2,8.4"/><circle cx="11" cy="5.9" r="1.3"/><circle cx="6.8" cy="1.5" r="1.4"/><circle cx="14.8" cy="12" r="1.5"/><circle cx="20.4" cy="5.5" r="1.7"/></g>
<g transform="translate(485.0,413.0)" stroke="#4fa87a" stroke-width="1.05" fill="none" stroke-linecap="round"><path d="M0,14.5 L10,14.5 L10,7.2 M12,14.5 L12,7.2 M10.2,4.8 L7.8,2.6 M12,14.5 L16.8,14.5 L23.2,8.4 M14.6,14 L16.4,14 M21.7,6.7 L23.2,8.4"/><circle cx="11" cy="5.9" r="1.3"/><circle cx="6.8" cy="1.5" r="1.4"/><circle cx="14.8" cy="12" r="1.5"/><circle cx="20.4" cy="5.5" r="1.7"/></g>
<g transform="translate(513.4,407.6)" stroke="#e3c064" stroke-width="1.05" fill="none" stroke-linecap="round"><path d="M0,14.5 L10,14.5 L10,7.2 M12,14.5 L12,7.2 M10.2,4.8 L7.8,2.6 M12,14.5 L16.8,14.5 L23.2,8.4 M14.6,14 L16.4,14 M21.7,6.7 L23.2,8.4"/><circle cx="11" cy="5.9" r="1.3"/><circle cx="6.8" cy="1.5" r="1.4"/><circle cx="14.8" cy="12" r="1.5"/><circle cx="20.4" cy="5.5" r="1.7"/></g>
<g transform="translate(550.6,406.4)" stroke="#d9604a" stroke-width="1.05" fill="none" stroke-linecap="round"><path d="M0,14.5 L10,14.5 L10,7.2 M12,14.5 L12,7.2 M10.2,4.8 L7.8,2.6 M12,14.5 L16.8,14.5 L23.2,8.4 M14.6,14 L16.4,14 M21.7,6.7 L23.2,8.4"/><circle cx="11" cy="5.9" r="1.3"/><circle cx="6.8" cy="1.5" r="1.4"/><circle cx="14.8" cy="12" r="1.5"/><circle cx="20.4" cy="5.5" r="1.7"/></g>
<circle cx="534.0" cy="459.5" r="32.6" fill="none" stroke="#cfe3ea" stroke-width="3.8"/>
<path d="M526.7,427.7 A32.6,32.6 0 0 1 534.0,426.9" stroke="#d9604a" stroke-width="3.8" fill="none" />
<path d="M502.4,451.6 A32.6,32.6 0 0 1 504.7,445.2" stroke="#e8803a" stroke-width="3.8" fill="none" />
<path d="M502.1,466.3 A32.6,32.6 0 0 1 501.4,459.5" stroke="#e3c064" stroke-width="3.8" fill="none" />
<path d="M562.8,444.2 A32.6,32.6 0 0 1 565.3,450.5" stroke="#2a9d8f" stroke-width="3.8" fill="none" />
<path d="M566.6,460.6 A32.6,32.6 0 0 1 565.6,467.4" stroke="#1b6e69" stroke-width="3.8" fill="none" />
<path d="M549.3,488.3 A32.6,32.6 0 0 1 543.0,490.8" stroke="#8cb07a" stroke-width="3.8" fill="none" />
<line x1="576.0" y1="437.3" x2="606.8" y2="437.3" stroke="#222" stroke-width="1.0" stroke-dasharray="3.1,2.1"/>
<path d="M601.9,440.0 L606.8,437.3 L601.9,434.6" stroke="#222" stroke-width="1.0" fill="none" stroke-linejoin="miter"/>
<rect x="616.2" y="369.7" width="12.6" height="3.8" fill="#d2603f" stroke="none" stroke-width="1" rx="0" />
<rect x="632.6" y="369.7" width="12.6" height="3.8" fill="#e37b2e" stroke="none" stroke-width="1" rx="0" />
<rect x="649.0" y="369.7" width="12.6" height="3.8" fill="#e0bc62" stroke="none" stroke-width="1" rx="0" />
<rect x="665.2" y="369.7" width="12.6" height="3.8" fill="#16706a" stroke="none" stroke-width="1" rx="0" />
<rect x="681.6" y="369.7" width="12.6" height="3.8" fill="#2b9a8e" stroke="none" stroke-width="1" rx="0" />
<rect x="698.0" y="369.7" width="12.6" height="3.8" fill="#87ad76" stroke="none" stroke-width="1" rx="0" />
<rect x="616.2" y="380.8" width="12.6" height="3.8" fill="#d2603f" stroke="none" stroke-width="1" rx="0" />
<rect x="632.6" y="380.8" width="12.6" height="3.8" fill="#e37b2e" stroke="none" stroke-width="1" rx="0" />
<rect x="665.2" y="380.8" width="12.6" height="3.8" fill="#16706a" stroke="none" stroke-width="1" rx="0" />
<rect x="681.6" y="380.8" width="12.6" height="3.8" fill="#2b9a8e" stroke="none" stroke-width="1" rx="0" />
<rect x="616.2" y="391.5" width="12.6" height="3.8" fill="#d2603f" stroke="none" stroke-width="1" rx="0" />
<rect x="632.6" y="391.5" width="12.6" height="3.8" fill="#e37b2e" stroke="none" stroke-width="1" rx="0" />
<rect x="649.0" y="391.5" width="12.6" height="3.8" fill="#e0bc62" stroke="none" stroke-width="1" rx="0" />
<rect x="665.2" y="391.5" width="12.6" height="3.8" fill="#16706a" stroke="none" stroke-width="1" rx="0" />
<rect x="698.0" y="391.5" width="12.6" height="3.8" fill="#87ad76" stroke="none" stroke-width="1" rx="0" />
<rect x="616.2" y="402.3" width="12.6" height="3.8" fill="#d2603f" stroke="none" stroke-width="1" rx="0" />
<rect x="632.6" y="402.3" width="12.6" height="3.8" fill="#e37b2e" stroke="none" stroke-width="1" rx="0" />
<rect x="681.6" y="402.3" width="12.6" height="3.8" fill="#2b9a8e" stroke="none" stroke-width="1" rx="0" />
<rect x="698.0" y="402.3" width="12.6" height="3.8" fill="#87ad76" stroke="none" stroke-width="1" rx="0" />
<rect x="616.2" y="413.0" width="12.6" height="3.8" fill="#d2603f" stroke="none" stroke-width="1" rx="0" />
<rect x="632.6" y="413.0" width="12.6" height="3.8" fill="#e37b2e" stroke="none" stroke-width="1" rx="0" />
<rect x="665.2" y="413.0" width="12.6" height="3.8" fill="#16706a" stroke="none" stroke-width="1" rx="0" />
<rect x="681.6" y="413.0" width="12.6" height="3.8" fill="#2b9a8e" stroke="none" stroke-width="1" rx="0" />
<rect x="698.0" y="413.0" width="12.6" height="3.8" fill="#87ad76" stroke="none" stroke-width="1" rx="0" />
<rect x="649.0" y="424.1" width="12.6" height="3.8" fill="#e0bc62" stroke="none" stroke-width="1" rx="0" />
<rect x="665.2" y="424.1" width="12.6" height="3.8" fill="#16706a" stroke="none" stroke-width="1" rx="0" />
<rect x="681.6" y="424.1" width="12.6" height="3.8" fill="#2b9a8e" stroke="none" stroke-width="1" rx="0" />
<rect x="698.0" y="424.1" width="12.6" height="3.8" fill="#87ad76" stroke="none" stroke-width="1" rx="0" />
<rect x="616.2" y="434.7" width="12.6" height="3.8" fill="#d2603f" stroke="none" stroke-width="1" rx="0" />
<rect x="632.6" y="434.7" width="12.6" height="3.8" fill="#e37b2e" stroke="none" stroke-width="1" rx="0" />
<rect x="649.0" y="434.7" width="12.6" height="3.8" fill="#e0bc62" stroke="none" stroke-width="1" rx="0" />
<rect x="681.6" y="434.7" width="12.6" height="3.8" fill="#2b9a8e" stroke="none" stroke-width="1" rx="0" />
<rect x="616.2" y="445.4" width="12.6" height="3.8" fill="#d2603f" stroke="none" stroke-width="1" rx="0" />
<rect x="681.6" y="445.4" width="12.6" height="3.8" fill="#2b9a8e" stroke="none" stroke-width="1" rx="0" />
<rect x="698.0" y="445.4" width="12.6" height="3.8" fill="#87ad76" stroke="none" stroke-width="1" rx="0" />
<rect x="665.2" y="456.2" width="12.6" height="3.8" fill="#16706a" stroke="none" stroke-width="1" rx="0" />
<rect x="632.6" y="467.1" width="12.6" height="3.8" fill="#e37b2e" stroke="none" stroke-width="1" rx="0" />
<rect x="649.0" y="467.1" width="12.6" height="3.8" fill="#e0bc62" stroke="none" stroke-width="1" rx="0" />
<rect x="665.2" y="467.1" width="12.6" height="3.8" fill="#16706a" stroke="none" stroke-width="1" rx="0" />
<rect x="681.6" y="467.1" width="12.6" height="3.8" fill="#2b9a8e" stroke="none" stroke-width="1" rx="0" />
<rect x="616.2" y="477.3" width="12.6" height="3.8" fill="#d2603f" stroke="none" stroke-width="1" rx="0" />
<rect x="649.0" y="478.2" width="12.6" height="3.8" fill="#e0bc62" stroke="none" stroke-width="1" rx="0" />
<rect x="698.0" y="477.3" width="12.6" height="3.8" fill="#87ad76" stroke="none" stroke-width="1" rx="0" />
<circle cx="660.3" cy="487.0" r="1.3" fill="#111" stroke="none" stroke-width="1"/>
<circle cx="660.3" cy="491.2" r="1.3" fill="#111" stroke="none" stroke-width="1"/>
<circle cx="660.3" cy="495.4" r="1.3" fill="#111" stroke="none" stroke-width="1"/>
<path d="M750.4,299.0 L777.2,338.0 L777.2,425.0 L780.5,432.6" stroke="#111" stroke-width="1.3" fill="none" stroke-linejoin="miter"/>
<path d="M818.0,299.0 L791.6,338.0 L791.6,425.0 L788.0,432.6" stroke="#111" stroke-width="1.3" fill="none" stroke-linejoin="miter"/>
<circle cx="797.2" cy="296.6" r="4.5" fill="#9c9c9c" stroke="none" stroke-width="1"/>
<circle cx="781.5" cy="300.0" r="4.5" fill="#9c9c9c" stroke="none" stroke-width="1"/>
<circle cx="770.8" cy="298.9" r="4.5" fill="#6db33f" stroke="none" stroke-width="1"/>
<circle cx="775.1" cy="302.1" r="4.5" fill="#0a9b4a" stroke="none" stroke-width="1"/>
<circle cx="807.7" cy="300.9" r="4.5" fill="#0a9b4a" stroke="none" stroke-width="1"/>
<circle cx="768.6" cy="310.7" r="4.5" fill="#9c9c9c" stroke="none" stroke-width="1"/>
<circle cx="763.9" cy="307.5" r="4.5" fill="#0a9b4a" stroke="none" stroke-width="1"/>
<circle cx="791.6" cy="303.6" r="4.5" fill="#9c9c9c" stroke="none" stroke-width="1"/>
<circle cx="783.2" cy="306.9" r="4.5" fill="#9c9c9c" stroke="none" stroke-width="1"/>
<circle cx="804.1" cy="306.9" r="4.5" fill="#6db33f" stroke="none" stroke-width="1"/>
<circle cx="796.1" cy="309.7" r="4.5" fill="#b5dca0" stroke="none" stroke-width="1"/>
<circle cx="777.2" cy="312.9" r="4.5" fill="#b5dca0" stroke="none" stroke-width="1"/>
<circle cx="789.0" cy="312.9" r="4.5" fill="#0a9b4a" stroke="none" stroke-width="1"/>
<circle cx="798.7" cy="316.5" r="4.5" fill="#9c9c9c" stroke="none" stroke-width="1"/>
<circle cx="782.0" cy="317.2" r="4.5" fill="#9c9c9c" stroke="none" stroke-width="1"/>
<circle cx="773.4" cy="320.2" r="4.5" fill="#0a9b4a" stroke="none" stroke-width="1"/>
<circle cx="794.4" cy="321.5" r="4.5" fill="#9c9c9c" stroke="none" stroke-width="1"/>
<circle cx="785.2" cy="324.0" r="4.5" fill="#b5dca0" stroke="none" stroke-width="1"/>
<circle cx="779.0" cy="327.7" r="4.5" fill="#0a9b4a" stroke="none" stroke-width="1"/>
<circle cx="788.6" cy="331.1" r="4.5" fill="#0a9b4a" stroke="none" stroke-width="1"/>
<circle cx="784.4" cy="340.1" r="4.5" fill="#6db33f" stroke="none" stroke-width="1"/>
<circle cx="784.4" cy="350.4" r="4.5" fill="#6db33f" stroke="none" stroke-width="1"/>
<circle cx="784.4" cy="361.2" r="4.5" fill="#0a9b4a" stroke="none" stroke-width="1"/>
<circle cx="784.4" cy="371.7" r="4.5" fill="#9c9c9c" stroke="none" stroke-width="1"/>
<circle cx="784.4" cy="382.3" r="4.5" fill="#0a9b4a" stroke="none" stroke-width="1"/>
<circle cx="784.4" cy="392.7" r="4.5" fill="#9c9c9c" stroke="none" stroke-width="1"/>
<circle cx="784.4" cy="403.6" r="4.5" fill="#9bd08c" stroke="none" stroke-width="1"/>
<circle cx="784.4" cy="413.9" r="4.5" fill="#9c9c9c" stroke="none" stroke-width="1"/>
<circle cx="784.4" cy="424.4" r="4.5" fill="#0a9b4a" stroke="none" stroke-width="1"/>
<rect x="726.8" y="391.4" width="34.3" height="16.8" fill="#35708f" stroke="none" stroke-width="1" rx="8" />
<path d="M761.0,399.3 L768.4,399.3 M766.2,399.3 L766.2,402.9 L763.0,402.9" stroke="#333" stroke-width="1.1" fill="none" />
<line x1="796.5" y1="401.5" x2="812.6" y2="401.5" stroke="#333" stroke-width="0.9" stroke-dasharray="2.4,1.8"/>
<path d="M813.3,389.2 L820.2,395.0 L846.5,395.0 L846.5,408.0 L820.2,408.0 L813.3,414.0 Z" stroke="none" stroke-width="0" fill="#35708f" />
<path d="M764.4,437.3 L770.8,437.3 M767.6,434.1 L767.6,440.5" stroke="#111" stroke-width="1.1" fill="none" />
<line x1="798.4" y1="437.3" x2="804.8" y2="437.3" stroke="#111" stroke-width="1.1" />
<g transform="translate(768.6,446.3) rotate(8.8)"><path d="M-6.1,-0.6 L6.1,0.6 L6.1,41.6 A6.1,6.1 0 0 1 -6.1,41.6 Z" fill="#fff" stroke="#111" stroke-width="1.4"/></g>
<g transform="translate(801.6,446.3) rotate(-8.8)"><path d="M-6.1,0.6 L6.1,-0.6 L6.1,41.6 A6.1,6.1 0 0 1 -6.1,41.6 Z" fill="#fff" stroke="#111" stroke-width="1.4"/></g>
<circle cx="762.6" cy="478.1" r="4.4" fill="#0a9b4a" stroke="none" stroke-width="1"/>
<circle cx="764.8" cy="483.0" r="4.4" fill="#0a9b4a" stroke="none" stroke-width="1"/>
<circle cx="761.3" cy="487.6" r="4.4" fill="#0a9b4a" stroke="none" stroke-width="1"/>
<circle cx="808.0" cy="488.2" r="4.2" fill="#9c9c9c" stroke="none" stroke-width="1"/>
<circle cx="806.5" cy="482.0" r="4.2" fill="#7bc553" stroke="none" stroke-width="1"/>
<circle cx="805.4" cy="477.6" r="4.2" fill="#8ecf6c" stroke="none" stroke-width="1"/>
<circle cx="806.0" cy="473.6" r="4.2" fill="#add99a" stroke="none" stroke-width="1"/>
<circle cx="805.0" cy="468.5" r="4.2" fill="#9c9c9c" stroke="none" stroke-width="1"/>
<!-- Panel E -->
<text x="-0.2" y="534.5" font-size="23.8" textLength="14.5" lengthAdjust="spacingAndGlyphs" stroke="#000" stroke-width="0.22">E</text>
<rect x="24.5" y="542.8" width="617.5" height="125.2" fill="none" stroke="#444" stroke-width="1.0" rx="0" />
<line x1="83.0" y1="548.0" x2="83.0" y2="665.0" stroke="#111" stroke-width="1.2" />
<line x1="87.4" y1="548.0" x2="87.4" y2="665.0" stroke="#111" stroke-width="1.2" />
<rect x="78.3" y="592.5" width="12.2" height="27.5" fill="#eef3f1" stroke="#222" stroke-width="0.9" rx="5.5" />
<text x="28.8" y="608.5" font-size="12.2" textLength="45.0" lengthAdjust="spacingAndGlyphs" fill="#111" stroke="#111" stroke-width="0.22">Glucose</text>
<line x1="73.8" y1="606.3" x2="96.0" y2="606.3" stroke="#111" stroke-width="1.0" />
<path d="M92.3,609.4 L96.0,606.3 L92.3,603.2" stroke="#111" stroke-width="1.0" fill="none" stroke-linejoin="miter"/>
<text x="101.8" y="608.5" font-size="12.2" textLength="22.5" lengthAdjust="spacingAndGlyphs" fill="#111" stroke="#111" stroke-width="0.22">G6P</text>
<line x1="125.0" y1="606.3" x2="149.0" y2="606.3" stroke="#222" stroke-width="1.0" stroke-dasharray="1.3,1.8"/>
<path d="M145.0,609.3 L149.0,606.3 L145.0,603.3" stroke="#222" stroke-width="1.0" fill="none" stroke-linejoin="miter"/>
<text x="151.3" y="608.5" font-size="12.2" textLength="52.5" lengthAdjust="spacingAndGlyphs" fill="#111" stroke="#111" stroke-width="0.22">Pryruvate</text>
<line x1="206.0" y1="606.3" x2="215.3" y2="606.3" stroke="#111" stroke-width="1.0" />
<path d="M211.9,609.4 L215.3,606.3 L211.9,603.2" stroke="#111" stroke-width="1.0" fill="none" stroke-linejoin="miter"/>
<text x="221.8" y="609.0" font-size="12.2" textLength="62.0" lengthAdjust="spacingAndGlyphs" fill="#111" stroke="#111" stroke-width="0.22">Acetyl-CoA</text>
<line x1="286.0" y1="606.0" x2="311.8" y2="606.0" stroke="#222" stroke-width="1.0" stroke-dasharray="1.3,1.8"/>
<path d="M307.8,609.0 L311.8,606.0 L307.8,603.0" stroke="#222" stroke-width="1.0" fill="none" stroke-linejoin="miter"/>
<line x1="111.8" y1="613.0" x2="111.8" y2="637.0" stroke="#7a7a7a" stroke-width="1.0" />
<path d="M109.2,633.4 L111.8,637.0 L114.4,633.4" stroke="#7a7a7a" stroke-width="1.0" fill="none" stroke-linejoin="miter"/>
<text x="115.8" y="628.0" font-size="12.0" textLength="21.2" lengthAdjust="spacingAndGlyphs" fill="#3a9d94" stroke="#3a9d94" stroke-width="0.22" font-style="italic">edd</text>
<text x="99.3" y="651.3" font-size="12.2" textLength="34.5" lengthAdjust="spacingAndGlyphs" fill="#111" stroke="#111" stroke-width="0.22">KDPG</text>
<text x="225.0" y="557.3" font-size="12.2" textLength="42.0" lengthAdjust="spacingAndGlyphs" fill="#111" stroke="#111" stroke-width="0.22">Acetate</text>
<text x="214.5" y="570.3" font-size="12.0" textLength="17.3" lengthAdjust="spacingAndGlyphs" fill="#3a9d94" stroke="#3a9d94" stroke-width="0.22" font-style="italic">pta</text>
<line x1="240.0" y1="574.0" x2="240.0" y2="559.8" stroke="#7a7a7a" stroke-width="1.0" />
<path d="M242.6,563.4 L240.0,559.8 L237.4,563.4" stroke="#7a7a7a" stroke-width="1.0" fill="none" stroke-linejoin="miter"/>
<line x1="240.0" y1="598.5" x2="240.0" y2="580.3" stroke="#7a7a7a" stroke-width="1.0" />
<path d="M242.6,583.9 L240.0,580.3 L237.4,583.9" stroke="#7a7a7a" stroke-width="1.0" fill="none" stroke-linejoin="miter"/>
<text x="209.3" y="594.0" font-size="12.0" textLength="27.5" lengthAdjust="spacingAndGlyphs" fill="#3a9d94" stroke="#3a9d94" stroke-width="0.22" font-style="italic">ackA</text>
<path d="M246.0,598.5 L246.0,570.8 L259.6,570.8" stroke="#7a7a7a" stroke-width="1.0" fill="none" />
<path d="M256.4,568.0 L260.0,570.8 L256.4,573.6" stroke="#7a7a7a" stroke-width="1.0" fill="none" />
<text x="250.0" y="585.3" font-size="12.0" textLength="28.0" lengthAdjust="spacingAndGlyphs" fill="#3a9d94" stroke="#3a9d94" stroke-width="0.22" font-style="italic">aceB</text>
<text x="265.8" y="573.8" font-size="12.2" textLength="37.2" lengthAdjust="spacingAndGlyphs" fill="#111" stroke="#111" stroke-width="0.22">Malate</text>
<text x="211.3" y="632.3" font-size="12.0" textLength="25.0" lengthAdjust="spacingAndGlyphs" fill="#3a9d94" stroke="#3a9d94" stroke-width="0.22" font-style="italic">ldhA</text>
<line x1="240.0" y1="617.8" x2="240.0" y2="649.0" stroke="#7a7a7a" stroke-width="1.0" />
<path d="M237.4,645.4 L240.0,649.0 L242.6,645.4" stroke="#7a7a7a" stroke-width="1.0" fill="none" stroke-linejoin="miter"/>
<path d="M246.0,617.8 L246.0,637.3 L279.2,637.3" stroke="#7a7a7a" stroke-width="1.0" fill="none" />
<path d="M276.0,634.5 L279.6,637.3 L276.0,640.1" stroke="#7a7a7a" stroke-width="1.0" fill="none" />
<text x="250.0" y="630.3" font-size="12.0" textLength="28.8" lengthAdjust="spacingAndGlyphs" fill="#3a9d94" stroke="#3a9d94" stroke-width="0.22" font-style="italic">adhE</text>
<text x="283.8" y="640.8" font-size="12.2" textLength="42.0" lengthAdjust="spacingAndGlyphs" fill="#111" stroke="#111" stroke-width="0.22">Ethanol</text>
<text x="227.5" y="659.0" font-size="12.2" textLength="40.0" lengthAdjust="spacingAndGlyphs" fill="#111" stroke="#111" stroke-width="0.22">Lactate</text>
<text x="327.5" y="612.2" font-size="13.2" textLength="18.0" lengthAdjust="spacingAndGlyphs" stroke="#000" stroke-width="0.22" font-weight="bold">HO</text>
<path d="M345.5,606.3 L353.8,599.5 L364.5,606.3 L375.0,599.5 L385.0,605.8" stroke="#111" stroke-width="1.2" fill="none" stroke-linejoin="round"/>
<path d="M374.1,599.5 L374.1,589.5 M376.5,599.5 L376.5,589.5" stroke="#111" stroke-width="1.1" fill="none" />
<text x="371.4" y="588.0" font-size="13.2" textLength="9.0" lengthAdjust="spacingAndGlyphs" stroke="#000" stroke-width="0.22" font-weight="bold">O</text>
<text x="387.5" y="612.2" font-size="13.2" textLength="9.0" lengthAdjust="spacingAndGlyphs" stroke="#000" stroke-width="0.22" font-weight="bold">O</text>
<line x1="397.8" y1="605.4" x2="404.0" y2="605.4" stroke="#000" stroke-width="1.6" />
<text x="307.0" y="626.0" font-size="12.4" textLength="122.3" lengthAdjust="spacingAndGlyphs" fill="#111" stroke="#111" stroke-width="0.22">3-hydroxy-propanoate</text>
<text x="408.0" y="601.8" font-size="12.0" textLength="19.2" lengthAdjust="spacingAndGlyphs" fill="#d9604a" stroke="#d9604a" stroke-width="0.22">Car</text>
<line x1="431.1" y1="591.0" x2="431.1" y2="601.6" stroke="#d8452f" stroke-width="1.3" />
<path d="M428.5,595.2 L431.1,588.4 L433.7,595.2 Z" stroke="none" stroke-width="0" fill="#d8452f" />
<line x1="411.3" y1="606.3" x2="430.0" y2="606.3" stroke="#111" stroke-width="1.2" />
<path d="M426.4,609.5 L430.0,606.3 L426.4,603.1" stroke="#111" stroke-width="1.2" fill="none" stroke-linejoin="miter"/>
<text x="433.0" y="614.2" font-size="13.2" textLength="18.0" lengthAdjust="spacingAndGlyphs" stroke="#000" stroke-width="0.22" font-weight="bold">HO</text>
<path d="M451.3,606.3 L462.0,598.8 L478.0,606.3 L488.8,598.8" stroke="#111" stroke-width="1.2" fill="none" stroke-linejoin="round"/>
<path d="M488.8,598.8 L502.0,605.8 M489.9,596.6 L503.1,603.6" stroke="#111" stroke-width="1.1" fill="none" />
<text x="502.5" y="614.2" font-size="13.2" textLength="9.0" lengthAdjust="spacingAndGlyphs" stroke="#000" stroke-width="0.22" font-weight="bold">O</text>
<text x="450.8" y="626.3" font-size="12.4" textLength="35.5" lengthAdjust="spacingAndGlyphs" fill="#111" stroke="#111" stroke-width="0.22">3-HPA</text>
<text x="514.5" y="598.8" font-size="12.0" textLength="29.3" lengthAdjust="spacingAndGlyphs" fill="#d9604a" stroke="#d9604a" stroke-width="0.22">yqhD</text>
<line x1="547.3" y1="590.6" x2="547.3" y2="600.8" stroke="#d8452f" stroke-width="1.3" />
<path d="M544.7,595.0 L547.3,588.2 L549.9,595.0 Z" stroke="none" stroke-width="0" fill="#d8452f" />
<line x1="517.5" y1="606.3" x2="536.3" y2="606.3" stroke="#111" stroke-width="1.2" />
<path d="M532.7,609.5 L536.3,606.3 L532.7,603.1" stroke="#111" stroke-width="1.2" fill="none" stroke-linejoin="miter"/>
<text x="541.3" y="614.2" font-size="13.2" textLength="18.0" lengthAdjust="spacingAndGlyphs" stroke="#000" stroke-width="0.22" font-weight="bold">HO</text>
<path d="M560.0,605.5 L572.0,598.8 L586.3,607.0 L600.5,598.8 L613.8,605.5" stroke="#111" stroke-width="1.2" fill="none" stroke-linejoin="round"/>
<text x="618.0" y="614.2" font-size="13.2" textLength="18.0" lengthAdjust="spacingAndGlyphs" stroke="#000" stroke-width="0.22" font-weight="bold">OH</text>
<rect x="558.3" y="618.0" width="57.2" height="13.3" fill="#bfe5cc" stroke="none" stroke-width="1" rx="0" />
<text x="563.8" y="628.8" font-size="12.0" textLength="48.2" lengthAdjust="spacingAndGlyphs" fill="#111" stroke="#111" stroke-width="0.22">1,3-PDO</text>
<!-- Panel F -->
<text x="665.3" y="534.5" font-size="23.8" textLength="13.3" lengthAdjust="spacingAndGlyphs" stroke="#000" stroke-width="0.22">F</text>
<rect x="725.8" y="543.3" width="137.4" height="122.0" fill="none" stroke="#111" stroke-width="1.2" rx="0" />
<line x1="722.4" y1="543.3" x2="725.8" y2="543.3" stroke="#111" stroke-width="1.2" />
<text x="699.0" y="547.7" font-size="12.3" textLength="21.3" lengthAdjust="spacingAndGlyphs" fill="#111" stroke="#111" stroke-width="0.22">300</text>
<line x1="722.4" y1="584.0" x2="725.8" y2="584.0" stroke="#111" stroke-width="1.2" />
<text x="699.0" y="588.4" font-size="12.3" textLength="21.3" lengthAdjust="spacingAndGlyphs" fill="#111" stroke="#111" stroke-width="0.22">200</text>
<line x1="722.4" y1="624.6" x2="725.8" y2="624.6" stroke="#111" stroke-width="1.2" />
<text x="699.8" y="629.0" font-size="12.3" textLength="20.5" lengthAdjust="spacingAndGlyphs" fill="#111" stroke="#111" stroke-width="0.22">100</text>
<line x1="722.4" y1="665.3" x2="725.8" y2="665.3" stroke="#111" stroke-width="1.2" />
<text x="709.8" y="669.7" font-size="12.3" textLength="6.4" lengthAdjust="spacingAndGlyphs" fill="#111" stroke="#111" stroke-width="0.22">0</text>
<text transform="translate(690.6,602.5) rotate(-90)" text-anchor="middle" font-size="15.8" textLength="82" lengthAdjust="spacingAndGlyphs" fill="#111" stroke="#111" stroke-width="0.22">Titer (mg/L)</text>
<rect x="740.9" y="648.9" width="26.5" height="16.4" fill="#c5daf0" stroke="#000" stroke-width="1.3" rx="0" />
<line x1="754.1" y1="640.3" x2="754.1" y2="648.3" stroke="#000" stroke-width="1.2" />
<line x1="747.7" y1="640.3" x2="760.5" y2="640.3" stroke="#000" stroke-width="1.3" />
<circle cx="749.8" cy="641.5" r="1.9" fill="#000" stroke="none" stroke-width="1"/>
<circle cx="757.0" cy="645.3" r="1.9" fill="#000" stroke="none" stroke-width="1"/>
<circle cx="753.5" cy="655.8" r="1.9" fill="#000" stroke="none" stroke-width="1"/>
<line x1="754.1" y1="665.3" x2="754.1" y2="669.0" stroke="#111" stroke-width="1.2" />
<rect x="781.9" y="600.9" width="26.1" height="64.3" fill="#8db8e3" stroke="#000" stroke-width="1.3" rx="0" />
<line x1="795.0" y1="594.3" x2="795.0" y2="600.3" stroke="#000" stroke-width="1.2" />
<line x1="788.6" y1="594.3" x2="801.4" y2="594.3" stroke="#000" stroke-width="1.3" />
<circle cx="791.5" cy="596.5" r="1.9" fill="#000" stroke="none" stroke-width="1"/>
<circle cx="798.3" cy="596.5" r="1.9" fill="#000" stroke="none" stroke-width="1"/>
<circle cx="794.8" cy="606.0" r="1.9" fill="#000" stroke="none" stroke-width="1"/>
<line x1="795.0" y1="665.3" x2="795.0" y2="669.0" stroke="#111" stroke-width="1.2" />
<rect x="822.7" y="575.9" width="26.1" height="89.3" fill="#5b96d2" stroke="#000" stroke-width="1.3" rx="0" />
<line x1="835.8" y1="562.8" x2="835.8" y2="575.3" stroke="#000" stroke-width="1.2" />
<line x1="829.4" y1="562.8" x2="842.2" y2="562.8" stroke="#000" stroke-width="1.3" />
<circle cx="835.8" cy="563.3" r="1.9" fill="#000" stroke="none" stroke-width="1"/>
<circle cx="835.8" cy="574.0" r="1.9" fill="#000" stroke="none" stroke-width="1"/>
<circle cx="835.8" cy="587.8" r="1.9" fill="#000" stroke="none" stroke-width="1"/>
<line x1="835.8" y1="665.3" x2="835.8" y2="669.0" stroke="#111" stroke-width="1.2" />
<text x="743.4" y="686.3" font-size="15.3" textLength="23.2" lengthAdjust="spacingAndGlyphs" fill="#111" stroke="#111" stroke-width="0.22" font-style="italic">WT</text>
<text x="784.0" y="686.3" font-size="15.3" textLength="20.4" lengthAdjust="spacingAndGlyphs" fill="#111" stroke="#111" stroke-width="0.22" font-style="italic">M1</text>
<text x="824.8" y="686.3" font-size="15.3" textLength="21.9" lengthAdjust="spacingAndGlyphs" fill="#111" stroke="#111" stroke-width="0.22" font-style="italic">M2</text>
</svg>
</body></html>
